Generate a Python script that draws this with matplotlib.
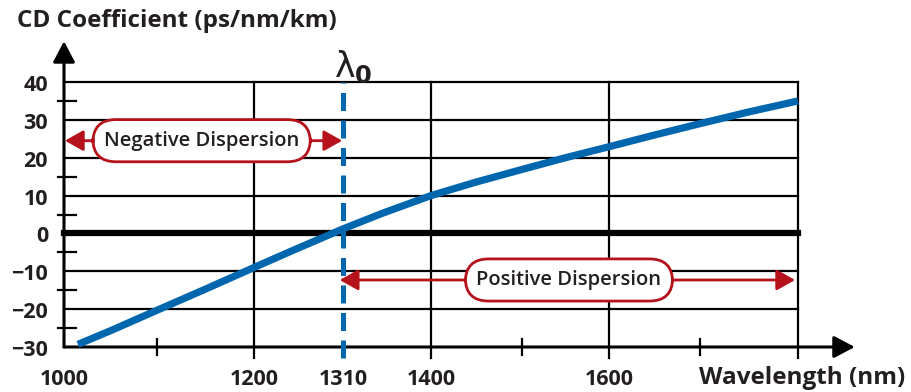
import numpy as np
import matplotlib
matplotlib.use("Agg")
import matplotlib.pyplot as plt

# chromatic dispersion curve of standard single-mode fibre
wavelength = [1015, 1050, 1100, 1150, 1200, 1250, 1310, 1350, 1400,
              1450, 1500, 1550, 1600, 1650, 1700, 1750, 1800]
cd_coeff = [-29.3, -25.7, -20.3, -14.7, -9.0, -4.3, 1.2, 5.3, 10.0,
            13.6, 16.9, 20.0, 22.9, 26.0, 29.0, 32.1, 35.0]

lambda0 = 1310
x_ticks = [1000, 1200, 1310, 1400, 1600]
x_minor = [1100, 1500, 1700]
x_grid = [1200, 1400, 1600, 1800]
y_ticks = [40, 30, 20, 10, 0, -10, -20, -30]
y_minor = [35, 15, 5, -5, -15, -25]
y_grid = [40, 30, 20, 10, -10, -20]

# the wavelength axis is drawn schematically, not to linear scale
scale_wl = [900, 1000, 1100, 1200, 1310, 1400, 1500, 1600, 1700, 1800, 1900]
scale_pos = [-29, 64, 157, 254, 343, 431, 522, 609, 700, 798, 896]

def fwd(x):
    return np.interp(x, scale_wl, scale_pos)

def inv(x):
    return np.interp(x, scale_pos, scale_wl)

blue = "#0066ae"
red = "#b5121b"
ink = "#231f20"
plt.rcParams['font.family'] = ['Open Sans', 'DejaVu Sans']
plt.rcParams['mathtext.fontset'] = 'dejavusans'

fig = plt.figure(figsize=(9.11, 3.92), dpi=100)
ax = fig.add_axes([64/911, 45/392, 734/911, 265/392])
ax.set_xscale('function', functions=(fwd, inv))
ax.set_xlim(1000, 1800)
ax.set_ylim(-30, 40)
ax.axis('off')

# grid
for y in y_grid:
    ax.plot([1000, 1800], [y, y], color='black', lw=1.6, zorder=1, clip_on=False)
for x in x_grid:
    ax.plot([x, x], [-32.8, 40], color='black', lw=1.6, zorder=1, clip_on=False)
ax.plot([1000, 1800], [0, 0], color='black', lw=4.5, zorder=2, clip_on=False)

# axes with arrow heads
axis_arrow = dict(arrowstyle='-|>,head_length=0.8,head_width=0.42',
                  mutation_scale=16, lw=2.2, color='black', shrinkA=0, shrinkB=0)
ax.annotate('', xy=(1000, 50.8), xytext=(1000, -30), annotation_clip=False,
            arrowprops=axis_arrow)
ax.annotate('', xy=(1858, -30), xytext=(1000, -30), annotation_clip=False,
            arrowprops=axis_arrow)
for y in y_minor:
    ax.plot([993.5, 1013], [y, y], color='black', lw=1.6, clip_on=False)
for x in x_minor:
    ax.plot([x, x], [-32.2, -27.8], color='black', lw=1.6, clip_on=False)

# zero-dispersion wavelength
ax.plot([lambda0, lambda0], [-32.8, 40], color=blue, lw=3.6,
        linestyle=(0, (3.6, 1.9)), zorder=3, clip_on=False)

ax.plot(wavelength, cd_coeff, color=blue, lw=5.2, zorder=4,
        solid_capstyle='butt', solid_joinstyle='round', clip_on=False)

# dispersion region arrows
head = dict(arrowstyle='-|>,head_length=0.8,head_width=0.45', mutation_scale=14,
            lw=2.0, color=red, shrinkA=0, shrinkB=0)
ax.annotate('', xy=(1001, 24.5), xytext=(1146, 24.5), arrowprops=head, zorder=5)
ax.annotate('', xy=(1309, 24.5), xytext=(1146, 24.5), arrowprops=head, zorder=5)
ax.annotate('', xy=(1306, -12.3), xytext=(1554, -12.3), arrowprops=head, zorder=5)
ax.annotate('', xy=(1797, -12.3), xytext=(1554, -12.3), arrowprops=head, zorder=5)
box = dict(boxstyle='round,pad=0.55,rounding_size=1.15', fc='white', ec=red, lw=2.0)
ax.text(1146, 24.5, 'Negative Dispersion', ha='center', va='center',
        fontsize=14.5, color=ink, fontweight='semibold', bbox=box, zorder=6)
ax.text(1554, -12.3, 'Positive Dispersion', ha='center', va='center',
        fontsize=14.5, color=ink, fontweight='semibold', bbox=box, zorder=6)

# tick labels
for y in y_ticks:
    lab = str(y).replace('-', '\u2212')
    ax.annotate(lab, xy=(1000, y), xytext=(-11.5, -2.5), textcoords='offset points',
                ha='right', va='center', fontsize=15.5, fontweight='bold',
                color=ink, annotation_clip=False)
for x in x_ticks:
    ax.text(x, -38.5, str(x), ha='center', va='center', fontsize=15.5,
            fontweight='bold', color=ink)

ax.text(1299, 44.0, r'$\mathrm{\lambda}_{\mathbf{0}}$', ha='left', va='center',
        fontsize=25, color=ink)

fig.text(17/911, 1 - 21/392, 'CD Coefficient (ps/nm/km)', ha='left', va='center',
         fontsize=17.5, fontweight='bold', color=ink)
fig.text(905/911, 1 - 378/392, 'Wavelength (nm)', ha='right', va='center',
         fontsize=17.5, fontweight='bold', color=ink)

fig.savefig('out.png', dpi=100)
